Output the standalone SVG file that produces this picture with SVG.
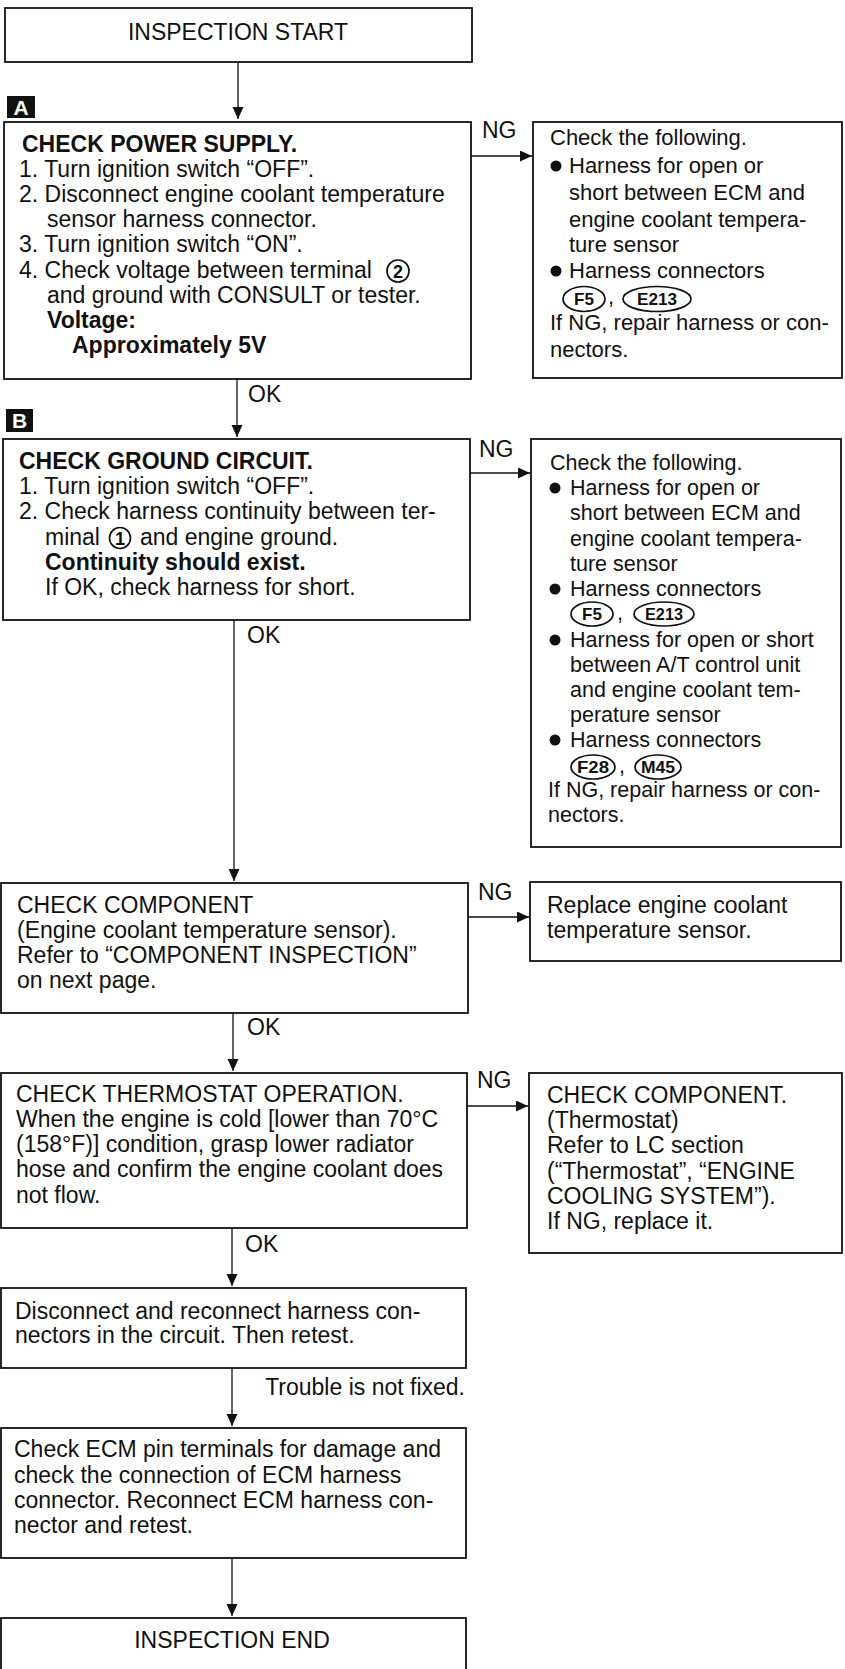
<svg xmlns="http://www.w3.org/2000/svg" width="845" height="1669" viewBox="0 0 845 1669">
<style>
.box{fill:#fff;stroke:#111;stroke-width:1.8}
.t{font-family:"Liberation Sans",Arial,Helvetica,sans-serif;font-size:23px;fill:#111}
.s{font-size:21.5px}
.m{font-size:22px}
.b{font-weight:bold}
.c{fill:none;stroke:#111;stroke-width:1.3}
.tag{fill:#111}
.tagt{font-family:"Liberation Sans",Arial,sans-serif;font-size:21px;font-weight:bold;fill:#fff}
.circ{fill:none;stroke:#111;stroke-width:1.7}
.num{font-family:"Liberation Sans",Arial,sans-serif;font-size:18px;font-weight:bold;fill:#111}
.conn{font-family:"Liberation Sans",Arial,sans-serif;font-size:17px;font-weight:bold;fill:#111}
.dot{fill:#111}
</style>
<defs>
<marker id="ah" markerUnits="userSpaceOnUse" markerWidth="12" markerHeight="12" refX="12" refY="5.5" orient="auto"><path d="M0,0 L12,5.5 L0,11 z" fill="#111"/></marker>
</defs>
<rect width="845" height="1669" fill="#fff"/>

<g id="connectors">
<path class="c" d="M238,62 V119" marker-end="url(#ah)"/>
<path class="c" d="M471,156 H532" marker-end="url(#ah)"/>
<text class="t" x="482" y="138">NG</text>
<path class="c" d="M237,379 V437" marker-end="url(#ah)"/>
<text class="t" x="248" y="402">OK</text>
<path class="c" d="M470,473 H530" marker-end="url(#ah)"/>
<text class="t" x="479" y="457">NG</text>
<path class="c" d="M234,620 V881" marker-end="url(#ah)"/>
<text class="t" x="247" y="643">OK</text>
<path class="c" d="M467,917 H529" marker-end="url(#ah)"/>
<text class="t" x="478" y="900">NG</text>
<path class="c" d="M233,1013 V1071" marker-end="url(#ah)"/>
<text class="t" x="247" y="1035">OK</text>
<path class="c" d="M467,1106 H528" marker-end="url(#ah)"/>
<text class="t" x="477" y="1088">NG</text>
<path class="c" d="M232,1228 V1286" marker-end="url(#ah)"/>
<text class="t" x="245" y="1252">OK</text>
<path class="c" d="M232,1368 V1426" marker-end="url(#ah)"/>
<text class="t" x="465" y="1395" text-anchor="end">Trouble is not fixed.</text>
<path class="c" d="M232,1558 V1616" marker-end="url(#ah)"/>
</g>

<g id="start">
<rect class="box" x="5" y="8" width="467" height="54"/>
<text class="t" x="238" y="40" text-anchor="middle">INSPECTION START</text>
</g>

<g id="tagA">
<rect class="tag" x="7" y="96" width="28" height="22"/>
<text class="tagt" x="21" y="115" text-anchor="middle">A</text>
</g>

<g id="checkPower">
<rect class="box" x="4" y="122" width="467" height="257"/>
<text class="t b" x="22" y="152">CHECK POWER SUPPLY.</text>
<text class="t" x="19" y="177">1. Turn ignition switch “OFF”.</text>
<text class="t" x="19" y="202">2. Disconnect engine coolant temperature</text>
<text class="t" x="47" y="227">sensor harness connector.</text>
<text class="t" x="19" y="252">3. Turn ignition switch “ON”.</text>
<text class="t" x="19" y="278">4. Check voltage between terminal</text>
<circle class="circ" cx="398" cy="271" r="11"/>
<text class="num" x="398" y="277.5" text-anchor="middle">2</text>
<text class="t" x="47" y="303">and ground with CONSULT or tester.</text>
<text class="t b" x="47" y="328">Voltage:</text>
<text class="t b" x="72" y="353">Approximately 5V</text>
</g>

<g id="ngPower">
<rect class="box" x="533" y="122" width="309" height="256"/>
<text class="t m" x="550" y="145">Check the following.</text>
<circle class="dot" cx="556" cy="166" r="5.5"/>
<text class="t m" x="569" y="173">Harness for open or</text>
<text class="t m" x="569" y="200">short between ECM and</text>
<text class="t m" x="569" y="227">engine coolant tempera-</text>
<text class="t m" x="569" y="252">ture sensor</text>
<circle class="dot" cx="556" cy="271" r="5.5"/>
<text class="t m" x="569" y="278">Harness connectors</text>
<ellipse class="circ" cx="584" cy="299" rx="21" ry="12.5"/>
<text class="conn" x="584" y="305" text-anchor="middle">F5</text>
<text class="t m" x="608" y="304">,</text>
<ellipse class="circ" cx="657" cy="299" rx="34" ry="12.5"/>
<text class="conn" x="657" y="305" text-anchor="middle" textLength="40" lengthAdjust="spacingAndGlyphs">E213</text>
<text class="t m" x="550" y="330">If NG, repair harness or con-</text>
<text class="t m" x="550" y="357">nectors.</text>
</g>

<g id="tagB">
<rect class="tag" x="6" y="409" width="27" height="23"/>
<text class="tagt" x="19.5" y="428" text-anchor="middle">B</text>
</g>

<g id="checkGround">
<rect class="box" x="3" y="439" width="467" height="181"/>
<text class="t b" x="19" y="469">CHECK GROUND CIRCUIT.</text>
<text class="t" x="19" y="494">1. Turn ignition switch “OFF”.</text>
<text class="t" x="19" y="519">2. Check harness continuity between ter-</text>
<text class="t" x="45" y="545">minal</text>
<circle class="circ" cx="120" cy="538" r="10.5"/>
<text class="num" x="120" y="544.5" text-anchor="middle">1</text>
<text class="t" x="140" y="545">and engine ground.</text>
<text class="t b" x="45" y="570">Continuity should exist.</text>
<text class="t" x="45" y="595">If OK, check harness for short.</text>
</g>

<g id="ngGround">
<rect class="box" x="531" y="439" width="310" height="408"/>
<text class="t s" x="550" y="470">Check the following.</text>
<circle class="dot" cx="555" cy="488" r="5.5"/>
<text class="t s" x="570" y="495">Harness for open or</text>
<text class="t s" x="570" y="520">short between ECM and</text>
<text class="t s" x="570" y="546">engine coolant tempera-</text>
<text class="t s" x="570" y="571">ture sensor</text>
<circle class="dot" cx="555" cy="589" r="5.5"/>
<text class="t s" x="570" y="596">Harness connectors</text>
<ellipse class="circ" cx="592" cy="614" rx="21" ry="12"/>
<text class="conn" x="592" y="620" text-anchor="middle">F5</text>
<text class="t s" x="617" y="620">,</text>
<ellipse class="circ" cx="664" cy="614" rx="30" ry="12"/>
<text class="conn" x="664" y="620" text-anchor="middle" textLength="38" lengthAdjust="spacingAndGlyphs">E213</text>
<circle class="dot" cx="555" cy="640" r="5.5"/>
<text class="t s" x="570" y="647">Harness for open or short</text>
<text class="t s" x="570" y="672">between A/T control unit</text>
<text class="t s" x="570" y="697">and engine coolant tem-</text>
<text class="t s" x="570" y="722">perature sensor</text>
<circle class="dot" cx="555" cy="740" r="5.5"/>
<text class="t s" x="570" y="747">Harness connectors</text>
<ellipse class="circ" cx="593" cy="767" rx="22" ry="12"/>
<text class="conn" x="593" y="773" text-anchor="middle" textLength="32" lengthAdjust="spacingAndGlyphs">F28</text>
<text class="t s" x="619" y="773">,</text>
<ellipse class="circ" cx="658" cy="767" rx="23" ry="12"/>
<text class="conn" x="658" y="773" text-anchor="middle" textLength="34" lengthAdjust="spacingAndGlyphs">M45</text>
<text class="t s" x="548" y="797">If NG, repair harness or con-</text>
<text class="t s" x="548" y="822">nectors.</text>
</g>

<g id="checkComponent">
<rect class="box" x="1" y="883" width="467" height="130"/>
<text class="t" x="17" y="913">CHECK COMPONENT</text>
<text class="t" x="17" y="938">(Engine coolant temperature sensor).</text>
<text class="t" x="17" y="963">Refer to “COMPONENT INSPECTION”</text>
<text class="t" x="17" y="988">on next page.</text>
</g>

<g id="replaceSensor">
<rect class="box" x="530" y="882" width="311" height="79"/>
<text class="t" x="547" y="913">Replace engine coolant</text>
<text class="t" x="547" y="938">temperature sensor.</text>
</g>

<g id="checkThermostat">
<rect class="box" x="1" y="1073" width="466" height="155"/>
<text class="t" x="16" y="1102">CHECK THERMOSTAT OPERATION.</text>
<text class="t" x="16" y="1127">When the engine is cold [lower than 70°C</text>
<text class="t" x="16" y="1152">(158°F)] condition, grasp lower radiator</text>
<text class="t" x="16" y="1177">hose and confirm the engine coolant does</text>
<text class="t" x="16" y="1203">not flow.</text>
</g>

<g id="checkThermostatComponent">
<rect class="box" x="529" y="1073" width="313" height="180"/>
<text class="t" x="547" y="1103">CHECK COMPONENT.</text>
<text class="t" x="547" y="1128">(Thermostat)</text>
<text class="t" x="547" y="1153">Refer to LC section</text>
<text class="t" x="547" y="1179">(“Thermostat”, “ENGINE</text>
<text class="t" x="547" y="1204">COOLING SYSTEM”).</text>
<text class="t" x="547" y="1229">If NG, replace it.</text>
</g>

<g id="reconnect">
<rect class="box" x="1" y="1288" width="465" height="80"/>
<text class="t" x="15" y="1319">Disconnect and reconnect harness con-</text>
<text class="t" x="15" y="1343">nectors in the circuit. Then retest.</text>
</g>

<g id="checkECM">
<rect class="box" x="1" y="1428" width="465" height="130"/>
<text class="t" x="14" y="1457">Check ECM pin terminals for damage and</text>
<text class="t" x="14" y="1483">check the connection of ECM harness</text>
<text class="t" x="14" y="1508">connector. Reconnect ECM harness con-</text>
<text class="t" x="14" y="1533">nector and retest.</text>
</g>

<g id="end">
<rect class="box" x="1" y="1618" width="465" height="70"/>
<text class="t" x="232" y="1648" text-anchor="middle">INSPECTION END</text>
</g>
</svg>
